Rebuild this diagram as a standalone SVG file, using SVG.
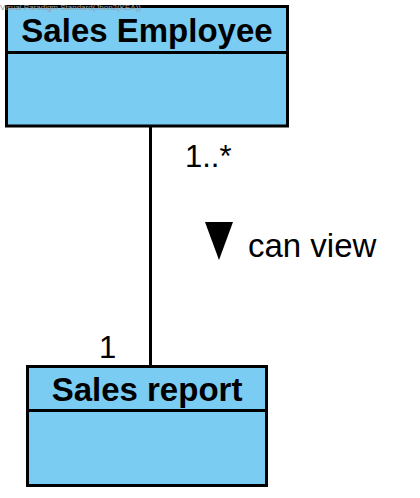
<svg xmlns="http://www.w3.org/2000/svg" width="420" height="498" viewBox="0 0 420 498">
<style>
.box{fill:#7accf2;stroke:#000;stroke-width:3}
.div{stroke:#000;stroke-width:3}
.name{font-family:"Liberation Sans",Arial,sans-serif;font-weight:bold;font-size:33px;text-anchor:middle;fill:#000}
.lbl{font-family:"Liberation Sans",Arial,sans-serif;font-size:31px;fill:#000}
.wm{font-family:"Liberation Sans",Arial,sans-serif;font-size:8px;fill:#999}
.conn{stroke:#000;stroke-width:3;fill:none}
</style>
<rect width="420" height="498" fill="#fff"/>
<g id="node-sales-employee">
<rect class="box" x="6.5" y="6.5" width="281" height="119.5"/>
<line class="div" x1="6.5" y1="52.5" x2="287.5" y2="52.5"/>
<text class="name" x="147" y="42">Sales Employee</text>
</g>
<g id="node-sales-report">
<rect class="box" x="27.5" y="366.5" width="239" height="119"/>
<line class="div" x1="27.5" y1="410.5" x2="266.5" y2="410.5"/>
<text class="name" x="147" y="401">Sales report</text>
</g>
<g id="connectors">
<line class="conn" x1="150.5" y1="127" x2="150.5" y2="365"/>
<text class="lbl" x="185" y="167">1..*</text>
<text class="lbl" x="99" y="358">1</text>
<polygon points="205,222 233,222 219,260" fill="#000"/>
<text class="lbl" x="248" y="257" style="font-size:33px">can view</text>
</g>
<text class="wm" x="0" y="10" textLength="141" lengthAdjust="spacingAndGlyphs">Visual Paradigm Standard(Jhon2(KEA))</text>
</svg>
